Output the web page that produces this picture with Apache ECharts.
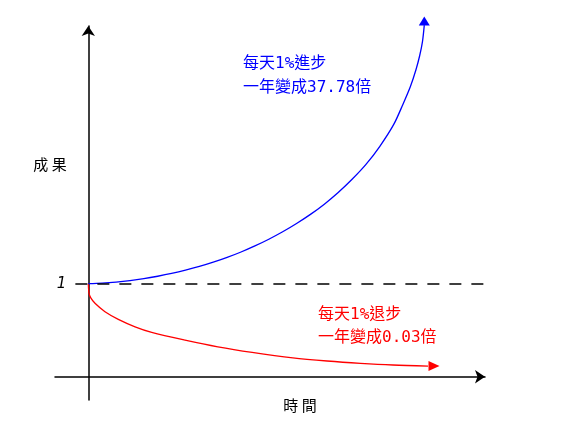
<!DOCTYPE html>
<html>
<head>
<meta charset="utf-8">
<script src="https://cdn.jsdelivr.net/npm/echarts@6/dist/echarts.min.js"></script>
<style>
html,body{margin:0;padding:0;background:#fff;}
#chart{width:562px;height:432px;}
</style>
</head>
<body>
<div id="chart"></div>
<script>
// Data (x: days, y: relative result, 1 = starting level)
var blueDays   = [0, 15, 30, 45, 60, 75, 90, 105, 120, 135, 150, 165, 180, 195, 210, 225, 240, 255, 270, 285, 300, 315, 330, 340, 348, 354, 358, 361, 363];
var blueValues = [1.000, 1.006, 1.017, 1.033, 1.054, 1.080, 1.110, 1.145, 1.185, 1.231, 1.283, 1.341, 1.406, 1.478, 1.558, 1.647, 1.745, 1.855, 1.980, 2.122, 2.282, 2.477, 2.712, 2.93, 3.12, 3.30, 3.45, 3.60, 3.78];
var redDays    = [0, 0.8, 2.5, 7.2, 18, 32.4, 50.5, 68.5, 104.5, 140, 177, 221, 258, 294, 329, 367];
var redValues  = [1.00, 0.896, 0.85, 0.789, 0.699, 0.617, 0.537, 0.477, 0.394, 0.322, 0.262, 0.203, 0.169, 0.144, 0.126, 0.115];
var baseLevel = 1;
var baseLineRange = [-14, 428];
var upText = '每天1%進步\n一年變成37.78倍';
var downText = '每天1%退步\n一年變成0.03倍';
var yName = '成 果';
var xName = '時 間';

function pairs(xs, ys){ return xs.map(function(x,i){ return [x, ys[i]]; }); }
var bluePts = pairs(blueDays, blueValues);
var redPts = pairs(redDays, redValues);

var chart = echarts.init(document.getElementById('chart'), null, {renderer:'canvas'});
var cjk = '"Noto Sans CJK TC", "Noto Sans CJK SC", sans-serif';
var mixed = '"DejaVu Sans Mono", "Noto Sans CJK TC", "Noto Sans CJK SC", monospace';
chart.setOption({
  animation: false,
  backgroundColor: '#fff',
  grid: {left: 55, right: 77, top: 26, bottom: 32},
  xAxis: {
    type: 'value', min: -36, max: 428.6,
    axisLine: {show: true, onZero: true, symbol: ['none','arrow'], symbolSize: [10, 10], lineStyle: {color: '#000', width: 1.5}},
    axisTick: {show: false}, axisLabel: {show: false}, splitLine: {show: false}
  },
  yAxis: {
    type: 'value', min: -0.25, max: 3.77,
    axisLine: {show: true, onZero: true, symbol: ['none','arrow'], symbolSize: [10, 10], lineStyle: {color: '#000', width: 1.5}},
    axisTick: {show: false}, axisLabel: {show: false}, splitLine: {show: false}
  },
  series: [
    {
      type: 'line', data: redPts, symbol: 'none', smooth: 0.3, clip: false,
      lineStyle: {color: '#ff0000', width: 1.3}, z: 3,
      markLine: {
        silent: true, symbol: ['none','none'],
        lineStyle: {color: '#000', type: [12, 10], width: 1.5},
        label: {show: true, position: 'start', distance: 9, formatter: String(baseLevel), color: '#000', fontSize: 15, fontStyle: 'italic', fontFamily: 'DejaVu Sans'},
        data: [[{coord: [baseLineRange[0], baseLevel]}, {coord: [baseLineRange[1], baseLevel]}]]
      }
    },
    {
      type: 'line', data: bluePts, symbol: 'none', smooth: 0.3, clip: false,
      lineStyle: {color: '#0000ff', width: 1.3}, z: 4
    },
    {
      type: 'scatter', clip: false, z: 5,
      data: [bluePts[bluePts.length-1]],
      symbol: 'triangle', symbolSize: [11, 9], symbolOffset: [0, -4],
      itemStyle: {color: '#0000ff', opacity: 1}
    },
    {
      type: 'scatter', clip: false, z: 5,
      data: [redPts[redPts.length-1]],
      symbol: 'triangle', symbolRotate: -90, symbolSize: [10, 11], symbolOffset: [6, 0],
      itemStyle: {color: '#ff0000', opacity: 1}
    }
  ],
  graphic: [
    {type: 'text', x: 243, y: 52, style: {text: upText, fill: '#0000ff', font: '16px ' + mixed, lineHeight: 24, textVerticalAlign: 'top'}},
    {type: 'text', x: 318, y: 303.5, style: {text: downText, fill: '#ff0000', font: '16px ' + mixed, lineHeight: 23, textVerticalAlign: 'top'}},
    {type: 'text', x: 50, y: 164, style: {text: yName, fill: '#000', font: '15px ' + cjk, textAlign: 'center', textVerticalAlign: 'middle'}},
    {type: 'text', x: 300, y: 405, style: {text: xName, fill: '#000', font: '15px ' + cjk, textAlign: 'center', textVerticalAlign: 'middle'}}
  ]
});
</script>
</body>
</html>
